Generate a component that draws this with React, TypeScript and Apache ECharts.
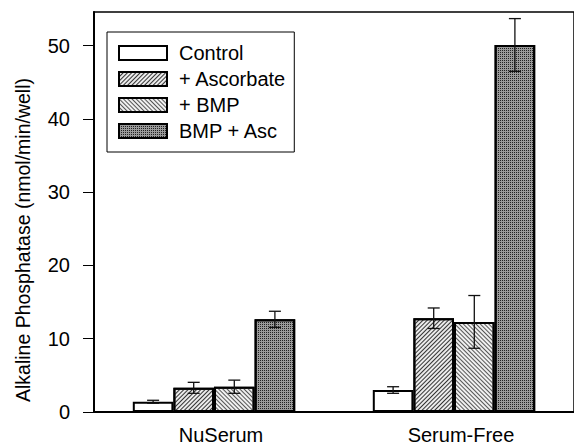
import React, { useEffect, useRef } from "react";
import * as echarts from "echarts";

const categories = ["NuSerum", "Serum-Free"];
const seriesNames = ["Control", "+ Ascorbate", "+ BMP", "BMP + Asc"];
const controlVals = [1.4, 3.0];
const controlErr = [0.2, 0.45];
const ascorbateVals = [3.3, 12.8];
const ascorbateErr = [0.75, 1.4];
const bmpVals = [3.45, 12.3];
const bmpErr = [0.9, 3.6];
const bmpAscVals = [12.65, 50.1];
const bmpAscErr = [1.1, 3.6];
const yTicks = [0, 10, 20, 30, 40, 50];
const yTitle = "Alkaline Phosphatase (nmol/min/well)";

const FONT = "'Liberation Sans', Arial, Helvetica, sans-serif";
const BAR_W = 40.6;

export default function App() {
  const ref = useRef<HTMLDivElement>(null);
  useEffect(() => {
    if (!ref.current) return;
    const chart = echarts.init(ref.current, undefined, {
      renderer: "svg",
      width: 574,
      height: 445,
    });
    const values = [controlVals, ascorbateVals, bmpVals, bmpAscVals];
    const errs = [controlErr, ascorbateErr, bmpErr, bmpAscErr];
    const styles: any[] = [
      { color: "#ffffff" },
      {
        color: "#ebebeb",
        decal: {
          symbol: "rect",
          symbolSize: 1,
          color: "#333",
          dashArrayX: [1, 0],
          dashArrayY: [1, 2],
          rotation: -Math.PI / 4,
        },
      },
      {
        color: "#f0f0f0",
        decal: {
          symbol: "rect",
          symbolSize: 1,
          color: "#555",
          dashArrayX: [1, 0],
          dashArrayY: [1, 2],
          rotation: Math.PI / 4,
        },
      },
      {
        color: "#9a9a9a",
        decal: {
          symbol: "rect",
          symbolSize: 1,
          color: "#222",
          dashArrayX: [1, 1],
          dashArrayY: [1, 1],
          rotation: 0,
        },
      },
    ];
    const barSeries = seriesNames.map((name, i) => ({
      name,
      type: "bar",
      data: values[i],
      barWidth: BAR_W,
      barGap: "0%",
      itemStyle: {
        ...styles[i],
        borderColor: "#000",
        borderWidth: 2,
        borderJoin: "miter",
        borderRadius: 0,
      },
      z: 2,
    }));
    const errData: number[][] = [];
    values.forEach((vals, s) =>
      vals.forEach((v, c) => errData.push([c, v, errs[s][c], s]))
    );
    const errSeries = {
      type: "custom",
      name: "err",
      z: 5,
      silent: true,
      data: errData,
      encode: { x: 0, y: 1 },
      renderItem: (params: any, api: any) => {
        const c = api.value(0);
        const v = api.value(1);
        const e = api.value(2);
        const s = api.value(3);
        const base = api.coord([c, v]);
        const x = base[0] + (s - 1.5) * BAR_W;
        const yTop = api.coord([c, v + e])[1];
        const yBot = api.coord([c, v - e])[1];
        const cap = 6;
        const st = { stroke: "#111", lineWidth: 1.3 };
        return {
          type: "group",
          children: [
            { type: "line", shape: { x1: x, y1: yTop, x2: x, y2: yBot }, style: st },
            { type: "line", shape: { x1: x - cap, y1: yTop, x2: x + cap, y2: yTop }, style: st },
            { type: "line", shape: { x1: x - cap, y1: yBot, x2: x + cap, y2: yBot }, style: st },
          ],
        };
      },
    };
    chart.setOption({
      animation: false,
      backgroundColor: "#fff",
      textStyle: { fontFamily: FONT },
      grid: {
        left: 94,
        top: 12,
        bottom: 32,
        width: 490,
        show: true,
        borderColor: "#000",
        borderWidth: 1.5,
        backgroundColor: "transparent",
      },
      graphic: [
        {
          type: "text",
          x: 23,
          y: 240,
          rotation: Math.PI / 2,
          style: {
            text: yTitle,
            fontFamily: FONT,
            fontSize: 19.5,
            fill: "#000",
            align: "center",
            verticalAlign: "middle",
          },
        },
      ],
      legend: {
        data: seriesNames,
        orient: "vertical",
        left: 107,
        top: 32,
        padding: [11, 8, 11, 11],
        icon: "rect",
        itemWidth: 48,
        itemHeight: 14,
        itemGap: 6,
        borderColor: "#000",
        borderWidth: 1,
        backgroundColor: "#fff",
        textStyle: {
          fontFamily: FONT,
          fontSize: 20,
          color: "#000",
          lineHeight: 20,
          padding: [0, 0, 0, 7],
        },
      },
      xAxis: {
        type: "category",
        data: categories,
        axisLine: { lineStyle: { color: "#000", width: 2 } },
        axisTick: { show: false },
        axisLabel: {
          fontFamily: FONT,
          fontSize: 20,
          color: "#000",
          margin: 13,
          padding: [0, 0, 0, 14],
        },
      },
      yAxis: {
        type: "value",
        min: 0,
        max: 54.6,
        interval: 10,
        axisLine: { show: true, lineStyle: { color: "#000", width: 2 } },
        axisTick: { show: true, length: 11, lineStyle: { color: "#000", width: 1 } },
        axisLabel: {
          fontFamily: FONT,
          fontSize: 20,
          color: "#000",
          margin: 24,
          showMaxLabel: false,
          formatter: (v: number) => (yTicks.includes(v) ? String(v) : ""),
        },
        splitLine: { show: false },
      },
      series: [...barSeries, errSeries],
    });
    return () => chart.dispose();
  }, []);
  return (
    <div
      ref={ref}
      style={{ position: "fixed", left: 0, top: 0, width: 574, height: 445 }}
    />
  );
}
